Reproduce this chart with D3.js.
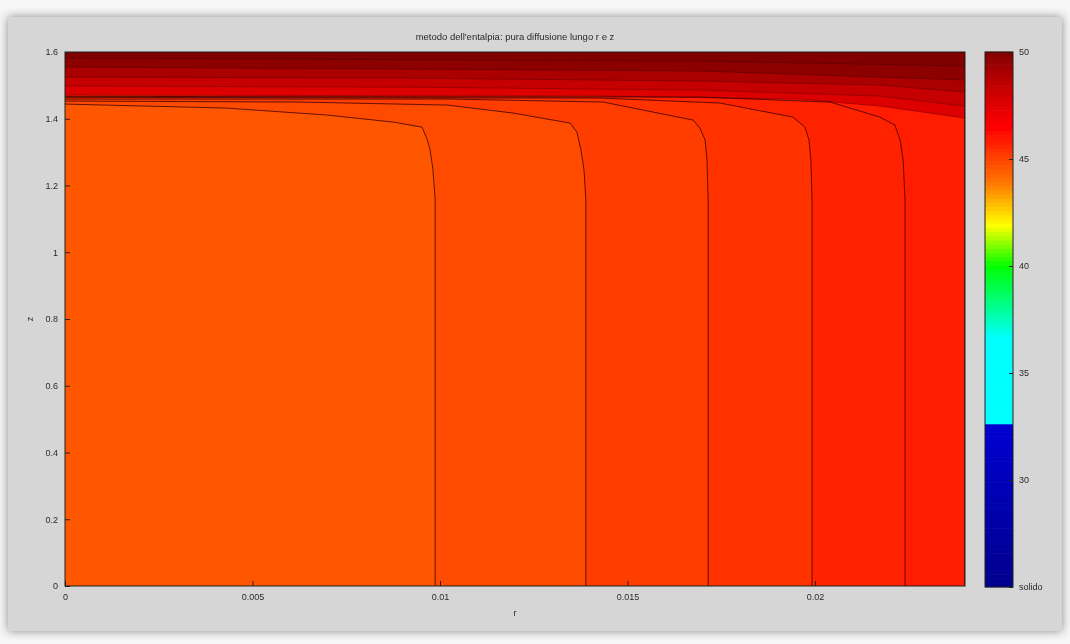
<!DOCTYPE html>
<html>
<head>
<meta charset="utf-8">
<script src="https://cdn.jsdelivr.net/npm/d3@7"></script>
<style>
  html, body { margin: 0; padding: 0; background: #f6f6f6; }
  svg { display: block; }
  text { font-family: "Liberation Sans", Arial, sans-serif; fill: #2a2a2a; }
</style>
</head>
<body>
<div id="chart"></div>
<script>
// axis limits and ticks
var rMax = 0.024, zMax = 1.6;
var xTicks = [0, 0.005, 0.01, 0.015, 0.02];
var xTickLabels = ["0", "0.005", "0.01", "0.015", "0.02"];
var yTicks = [0, 0.2, 0.4, 0.6, 0.8, 1, 1.2, 1.4, 1.6];
var yTickLabels = ["0", "0.2", "0.4", "0.6", "0.8", "1", "1.2", "1.4", "1.6"];

// colorbar
var cbMin = 25, cbMax = 50;
var cbTicks = [50, 45, 40, 35, 30, 25];
var cbTickLabels = ["50", "45", "40", "35", "30", "solido"];
var cmapValues = [25, 32.6, 32.6, 36.6, 40, 41.9, 44, 46.5, 48.5, 50];
var cmapColors = ["#00008c", "#0000d2", "#00ffff", "#00ffff", "#00ff00", "#ffff00", "#ff7000", "#ff0000", "#c00000", "#800000"];

// value of the field below the first contour, then above each contour
var baseValue = 44.55;
var regionValues = [44.82, 45.16, 45.43, 45.7, 45.92, 47.6, 48.3, 49.0, 49.7, 50];

// contour lines, [r, z] points
var c1 = [[0.00987,0],[0.00987,1.16],[0.00981,1.25],[0.00973,1.31],[0.00965,1.34],[0.00952,1.375],[0.00875,1.39],[0.0070,1.411],[0.0043,1.432],[0,1.444]];
var c2 = [[0.01389,0],[0.01389,1.157],[0.01384,1.246],[0.01376,1.306],[0.01365,1.36],[0.01347,1.387],[0.01195,1.417],[0.01019,1.441],[0.00627,1.45],[0,1.453]];
var c3 = [[0.01715,0],[0.01715,1.157],[0.01712,1.276],[0.01707,1.336],[0.01693,1.372],[0.01675,1.396],[0.01435,1.45],[0.01027,1.459],[0,1.459]];
var c4 = [[0.01992,0],[0.01992,1.157],[0.01989,1.276],[0.01984,1.336],[0.01973,1.375],[0.01941,1.405],[0.01747,1.447],[0.01427,1.462],[0,1.464]];
var c5 = [[0.0224,0],[0.0224,1.157],[0.02235,1.276],[0.02227,1.336],[0.02213,1.381],[0.02173,1.405],[0.0204,1.45],[0.01693,1.465],[0,1.467]];
var c6 = [[0.024,1.402],[0.02307,1.417],[0.02173,1.438],[0.0196,1.459],[0.01427,1.468],[0,1.471]];
var c7 = [[0.024,1.438],[0.02173,1.468],[0.01693,1.486],[0.00893,1.495],[0,1.498]];
var c8 = [[0.024,1.48],[0.02173,1.501],[0.01693,1.513],[0.00893,1.522],[0,1.525]];
var c9 = [[0.024,1.516],[0.01693,1.543],[0.00893,1.549],[0,1.555]];
var c10 = [[0.024,1.558],[0.01693,1.573],[0,1.582]];
var contours = [c1, c2, c3, c4, c5, c6, c7, c8, c9, c10];

var W = 1070, H = 644;
var svg = d3.select("#chart").append("svg").attr("width", W).attr("height", H);

var defs = svg.append("defs");
var sh = defs.append("filter").attr("id", "shadow").attr("x", "-5%").attr("y", "-5%").attr("width", "110%").attr("height", "110%");
sh.append("feDropShadow").attr("dx", 0).attr("dy", 0).attr("stdDeviation", 5).attr("flood-color", "#000").attr("flood-opacity", 0.45);
var soft = defs.append("filter").attr("id", "soft");
soft.append("feGaussianBlur").attr("stdDeviation", 0.6);

// grey figure panel
svg.append("rect").attr("x", 8).attr("y", 17).attr("width", 1054).attr("height", 614)
  .attr("fill", "#d6d6d6").attr("filter", "url(#shadow)");

var g = svg.append("g").attr("filter", "url(#soft)");

var x = d3.scaleLinear().domain([0, rMax]).range([65, 965]);
var y = d3.scaleLinear().domain([0, zMax]).range([586, 52]);
var color = d3.scaleLinear().domain(cmapValues).range(cmapColors).clamp(true);

defs.append("clipPath").attr("id", "plot").append("rect")
  .attr("x", x(0)).attr("y", y(zMax)).attr("width", x(rMax) - x(0)).attr("height", y(0) - y(zMax));

var plot = g.append("g").attr("clip-path", "url(#plot)");
plot.append("rect").attr("x", x(0)).attr("y", y(zMax))
  .attr("width", x(rMax) - x(0)).attr("height", y(0) - y(zMax))
  .attr("fill", color(baseValue));

var line = d3.line().x(function(d) { return x(d[0]); }).y(function(d) { return y(d[1]); });

// filled region above/right of each contour
plot.selectAll("path.fill").data(contours).enter().append("path")
  .attr("class", "fill")
  .attr("d", function(d) { return line(d.concat([[0, zMax], [rMax, zMax], [rMax, 0]])) + "Z"; })
  .attr("fill", function(d, i) { return color(regionValues[i]); })
  .attr("stroke", function(d, i) { return color(regionValues[i]); })
  .attr("stroke-width", 0.5);

// lines in the dark top layer barely show in the original
plot.selectAll("path.cline").data(contours).enter().append("path")
  .attr("class", "cline")
  .attr("d", line)
  .attr("fill", "none")
  .attr("stroke", "#300000")
  .attr("stroke-opacity", function(d, i) { return i < 5 ? 0.75 : 0.3; })
  .attr("stroke-width", 1);

// axes, ticks inside like matlab
var xAxis = d3.axisBottom(x).tickValues(xTicks)
  .tickFormat(function(d, i) { return xTickLabels[i]; }).tickSize(-5).tickPadding(8);
var yAxis = d3.axisLeft(y).tickValues(yTicks)
  .tickFormat(function(d, i) { return yTickLabels[i]; }).tickSize(-5).tickPadding(7);

var gx = g.append("g").attr("transform", "translate(0," + y(0) + ")").call(xAxis);
var gy = g.append("g").attr("transform", "translate(" + x(0) + ",0)").call(yAxis);
[gx, gy].forEach(function(a) {
  a.select(".domain").remove();
  a.selectAll(".tick line").attr("stroke", "#222");
  a.selectAll(".tick text").attr("font-size", 9).style("fill", "#2a2a2a")
    .attr("font-family", "Liberation Sans, Arial, sans-serif");
});

g.append("rect").attr("x", x(0)).attr("y", y(zMax))
  .attr("width", x(rMax) - x(0)).attr("height", y(0) - y(zMax))
  .attr("fill", "none").attr("stroke", "#222").attr("stroke-width", 1);

g.append("text").attr("x", (x(0) + x(rMax)) / 2).attr("y", 40)
  .attr("text-anchor", "middle").attr("font-size", 9.5)
  .text("metodo dell'entalpia: pura diffusione lungo r e z");
g.append("text").attr("x", (x(0) + x(rMax)) / 2).attr("y", 616)
  .attr("text-anchor", "middle").attr("font-size", 9).text("r");
g.append("text").attr("transform", "translate(33," + y(0.8) + ") rotate(-90)")
  .attr("text-anchor", "middle").attr("font-size", 9).text("z");

// colorbar
var cy = d3.scaleLinear().domain([cbMin, cbMax]).range([587, 52]);
var cbX = 985, cbW = 28;
var nCells = 128;
var step = (cbMax - cbMin) / nCells;
var cells = d3.range(nCells).map(function(i) { return cbMin + i * step; });
var cb = g.append("g");
cb.selectAll("rect").data(cells).enter().append("rect")
  .attr("x", cbX).attr("width", cbW)
  .attr("y", function(d) { return cy(d + step) - 0.3; })
  .attr("height", function(d) { return cy(d) - cy(d + step) + 0.6; })
  .attr("fill", function(d) { return color(d + step / 2); });
cb.append("rect").attr("x", cbX).attr("y", cy(cbMax)).attr("width", cbW)
  .attr("height", cy(cbMin) - cy(cbMax)).attr("fill", "none").attr("stroke", "#222");
var cbAxis = d3.axisRight(cy).tickValues(cbTicks)
  .tickFormat(function(d, i) { return cbTickLabels[i]; }).tickSize(-4).tickPadding(6);
var gc = g.append("g").attr("transform", "translate(" + (cbX + cbW) + ",0)").call(cbAxis);
gc.select(".domain").remove();
gc.selectAll(".tick line").attr("stroke", "#222");
gc.selectAll(".tick text").attr("font-size", 9).style("fill", "#2a2a2a")
  .attr("font-family", "Liberation Sans, Arial, sans-serif");
</script>
</body>
</html>
